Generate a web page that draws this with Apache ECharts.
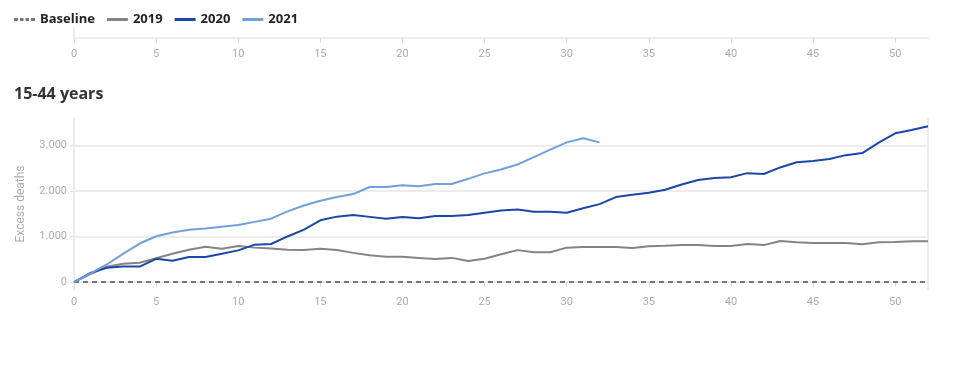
<!DOCTYPE html>
<html>
<head>
<meta charset="utf-8">
<script src="https://cdn.jsdelivr.net/npm/echarts@6/dist/echarts.min.js"></script>
<style>
html,body{margin:0;padding:0;background:#fff;}
#chart{width:958px;height:369px;}
</style>
</head>
<body>
<div id="chart"></div>
<script>
// Data (week number → cumulative excess deaths)
var weeks = [];
for (var w = 0; w <= 52; w++) weeks.push(w);
var baseline = [[0, 0], [52, 0]];
var deaths2019 = [0,175,335,400,425,520,620,710,775,730,790,755,735,710,705,730,705,640,590,555,555,530,505,530,460,510,610,700,655,655,755,770,770,770,745,785,795,810,810,790,790,835,810,900,875,855,855,855,830,875,880,895,895];
var deaths2020 = [0,200,315,340,340,510,465,550,550,620,695,820,835,1000,1150,1355,1435,1470,1430,1390,1425,1400,1450,1450,1470,1520,1570,1590,1540,1540,1520,1620,1710,1865,1915,1960,2025,2140,2240,2285,2300,2390,2370,2515,2630,2655,2700,2785,2830,3060,3265,3335,3420];
var deaths2021 = [0,190,385,625,845,1005,1085,1145,1175,1215,1250,1320,1390,1550,1680,1785,1865,1930,2085,2085,2125,2100,2150,2150,2265,2385,2470,2580,2740,2905,3065,3155,3065];
var yTicks = [0, 1000, 2000, 3000];
var xTickInterval = 5;
var seriesNames = ['Baseline', '2019', '2020', '2021'];
var titleText = '15-44 years';
var yAxisName = 'Excess deaths';

function pairs(arr) { return arr.map(function (v, i) { return [weeks[i], v]; }); }
function fmt(v) { return String(v).replace(/\B(?=(\d{3})+(?!\d))/g, '.'); }

var labelColor = '#b3aba2';
var lineColor = '#ececec';
var fontFam = 'Roboto, "Noto Sans", sans-serif';
var boldFam = '"Open Sans", Roboto, sans-serif';
var colors = ['#777777', '#848484', '#1b47a6', '#72a0dd'];
var dashIcon = 'path://M0,0h4v3h-4zM6,0h3.5v3h-3.5zM11.5,0h3.5v3h-3.5zM17,0h4v3h-4z';

var chart = echarts.init(document.getElementById('chart'), null, {renderer: 'canvas'});
chart.setOption({
  animation: false,
  backgroundColor: '#fff',
  title: {
    text: titleText, left: 14, top: 86, padding: 0,
    textStyle: {fontSize: 16, fontWeight: 'bold', color: '#333', fontFamily: boldFam}
  },
  legend: {
    left: 9, top: 8,
    itemWidth: 21, itemHeight: 3, itemGap: 12,
    data: seriesNames.map(function (n, i) {
      return {name: n, icon: i === 0 ? dashIcon : 'rect', itemStyle: {color: colors[i]}};
    }),
    textStyle: {fontSize: 13, fontWeight: 'bold', color: '#222', fontFamily: boldFam}
  },
  grid: [
    {left: 74, right: 30, top: 118, bottom: 79},
    {left: 74, right: 30, top: 28, height: 10}
  ],
  xAxis: [
    {
      type: 'value', gridIndex: 0, min: 0, max: 52, interval: xTickInterval,
      axisLine: {show: true, lineStyle: {color: lineColor, width: 2}},
      axisTick: {show: true, length: 5, lineStyle: {color: '#dedede'}},
      axisLabel: {color: labelColor, fontSize: 11, margin: 7, fontFamily: fontFam, showMaxLabel: false},
      splitLine: {show: false}
    },
    {
      type: 'value', gridIndex: 1, min: 0, max: 52, interval: xTickInterval,
      axisLine: {show: true, lineStyle: {color: lineColor, width: 2}},
      axisTick: {show: true, length: 5, lineStyle: {color: '#dedede'}},
      axisLabel: {color: labelColor, fontSize: 11, margin: 11, fontFamily: fontFam, showMaxLabel: false},
      splitLine: {show: false}
    }
  ],
  yAxis: [
    {
      type: 'value', gridIndex: 0, min: -175, max: 3600,
      name: yAxisName, nameLocation: 'middle', nameGap: 47,
      nameTextStyle: {color: labelColor, fontSize: 12, fontFamily: fontFam},
      axisLine: {show: true, lineStyle: {color: lineColor, width: 2}},
      axisTick: {show: true, length: 4, customValues: yTicks, lineStyle: {color: '#dedede'}},
      axisLabel: {color: labelColor, fontSize: 11, margin: 7, fontFamily: fontFam, customValues: yTicks, formatter: fmt},
      splitLine: {show: true, lineStyle: {color: lineColor, width: 2}}
    },
    {
      type: 'value', gridIndex: 0, position: 'right', min: -175, max: 3600,
      axisLine: {show: true, lineStyle: {color: lineColor, width: 2}},
      axisTick: {show: false}, axisLabel: {show: false}, splitLine: {show: false}
    },
    {
      type: 'value', gridIndex: 1, min: 0, max: 1,
      axisLine: {show: true, lineStyle: {color: lineColor, width: 2}},
      axisTick: {show: false}, axisLabel: {show: false}, splitLine: {show: false}
    }
  ],
  series: [
    {
      name: seriesNames[0], type: 'line', xAxisIndex: 0, yAxisIndex: 0,
      data: baseline, showSymbol: false, symbol: 'none',
      lineStyle: {color: colors[0], width: 2, type: [5, 4]}, itemStyle: {color: colors[0]}, z: 1
    },
    {
      name: seriesNames[1], type: 'line', xAxisIndex: 0, yAxisIndex: 0,
      data: pairs(deaths2019), showSymbol: false, symbol: 'none',
      lineStyle: {color: colors[1], width: 2}, itemStyle: {color: colors[1]}, z: 2
    },
    {
      name: seriesNames[2], type: 'line', xAxisIndex: 0, yAxisIndex: 0,
      data: pairs(deaths2020), showSymbol: false, symbol: 'none',
      lineStyle: {color: colors[2], width: 2}, itemStyle: {color: colors[2]}, z: 3
    },
    {
      name: seriesNames[3], type: 'line', xAxisIndex: 0, yAxisIndex: 0,
      data: pairs(deaths2021), showSymbol: false, symbol: 'none',
      lineStyle: {color: colors[3], width: 2}, itemStyle: {color: colors[3]}, z: 4
    }
  ]
});
</script>
</body>
</html>
